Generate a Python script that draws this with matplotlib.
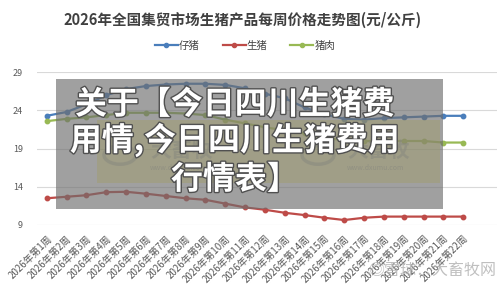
import matplotlib
matplotlib.use('Agg')
from matplotlib import pyplot as plt
from matplotlib.patches import Rectangle, Circle
from matplotlib.lines import Line2D
import matplotlib.patheffects as pe

plt.rcParams['font.family'] = ['Noto Sans CJK SC', 'DejaVu Sans']

weeks = ['2026年第1周', '2026年第2周', '2026年第3周', '2026年第4周', '2026年第5周',
         '2026年第6周', '2026年第7周', '2026年第8周', '2026年第9周', '2026年第10周',
         '2026年第11周', '2026年第12周', '2026年第13周', '2026年第14周', '2026年第15周',
         '2026年第16周', '2026年第17周', '2026年第18周', '2026年第19周', '2026年第20周',
         '2026年第21周', '2026年第22周']
piglet = [23.3, 23.8, 24.8, 26.0, 26.8, 27.2, 27.4, 27.5, 27.5, 27.35, 26.9,
          26.2, 25.6, 24.4, 23.5, 22.9, 22.8, 23.0, 23.1, 23.2, 23.3, 23.3]
hog = [12.5, 12.7, 12.9, 13.3, 13.35, 13.1, 12.8, 12.5, 12.3, 11.8, 11.3,
       11.0, 10.6, 10.3, 9.95, 9.65, 9.95, 10.1, 10.1, 10.1, 10.1, 10.1]
pork = [22.6, 22.9, 23.1, 23.4, 23.7, 23.7, 23.7, 23.6, 23.4, 22.8, 22.3,
        21.8, 21.4, 21.0, 20.4, 20.1, 20.0, 20.0, 20.0, 20.0, 19.8, 19.8]
series_names = ['仔猪', '生猪', '猪肉']
y_ticks = [9, 14, 19, 24, 29]
title = '2026年全国集贸市场生猪产品每周价格走势图(元/公斤)'
overlay_lines = ['关于【今日四川生猪费', '用情,今日四川生猪费用', '行情表】']

W, H = 500, 289


def fx(x):
    return x / W


def fy(y):
    return 1 - y / H


fig = plt.figure(figsize=(W / 100, H / 100), dpi=100)
fig.patch.set_facecolor('white')
ax = fig.add_axes([fx(37), fy(225), fx(497) - fx(37), fy(72.3) - fy(225)])

colors = ['#4a7ebb', '#be4b48', '#98b954']
xs = list(range(len(weeks)))
for vals, c in zip([piglet, hog, pork], colors):
    ax.plot(xs, vals, color=c, lw=1.6, marker='o', ms=3.2, zorder=3)

ax.set_ylim(9, 29)
ax.set_xlim(-0.49, 22.7)
ax.set_yticks(y_ticks)
ax.set_xticks(xs)
ax.set_xticklabels(weeks, rotation=45, ha='right', rotation_mode='anchor', fontsize=7, color='#595959')
ax.tick_params(axis='y', labelsize=6.5, labelcolor='#595959', length=0, pad=10)
ax.tick_params(axis='x', length=0, pad=6)
ax.grid(axis='y', color='#d9d9d9', lw=0.8)
for s in ax.spines.values():
    s.set_visible(False)

fig.text(fx(243), fy(20), title, ha='center', va='center', fontsize=10.5, weight='bold', color='#404040')

handles = [Line2D([], [], color=c, lw=1.6, marker='o', ms=3) for c in colors]
fig.legend(handles, series_names, loc='center', bbox_to_anchor=(fx(245), fy(46)), ncol=3,
           frameon=False, fontsize=7.5, handlelength=2.2, handletextpad=0.1, columnspacing=2.2,
           labelcolor='#404040')

# grey overlay card with the repost headline
fig.add_artist(Rectangle((fx(56), fy(209)), fx(443) - fx(56), fy(79) - fy(209),
                         transform=fig.transFigure, color='#6e6e6e', alpha=0.65, zorder=5, lw=0))
fig.add_artist(Rectangle((fx(97), fy(183)), fx(440) - fx(97), fy(120) - fy(183),
                         transform=fig.transFigure, color='#a09d6a', alpha=0.45, zorder=5, lw=0))
for cx, tx in [(120, 150), (318, 347)]:
    fig.add_artist(Circle((fx(cx), fy(155)), 0.032, transform=fig.transFigure, fill=False,
                          ec='#8a8a80', lw=2.5, alpha=0.6, zorder=5))
    fig.text(fx(tx), fy(150), '大畜牧', fontsize=15, weight='bold', color='#8a8a80', alpha=0.6,
             va='center', zorder=5)
    fig.text(fx(tx), fy(168), 'www.dxumu.com', fontsize=5, color='#8a8a80', alpha=0.7,
             va='center', zorder=5)

for line, y in zip(overlay_lines, [105, 140, 180]):
    fig.text(fx(235), fy(y), line, ha='center', va='center', fontsize=23, weight='heavy',
             color='white', zorder=6,
             path_effects=[pe.withStroke(linewidth=2, foreground='#505050')])

fig.text(fx(432), fy(270), '◎雪球：大畜牧网', ha='center', va='center', fontsize=11.5,
         color='#b0b0b0', alpha=0.8, zorder=6)

fig.savefig('out.png', dpi=100)
